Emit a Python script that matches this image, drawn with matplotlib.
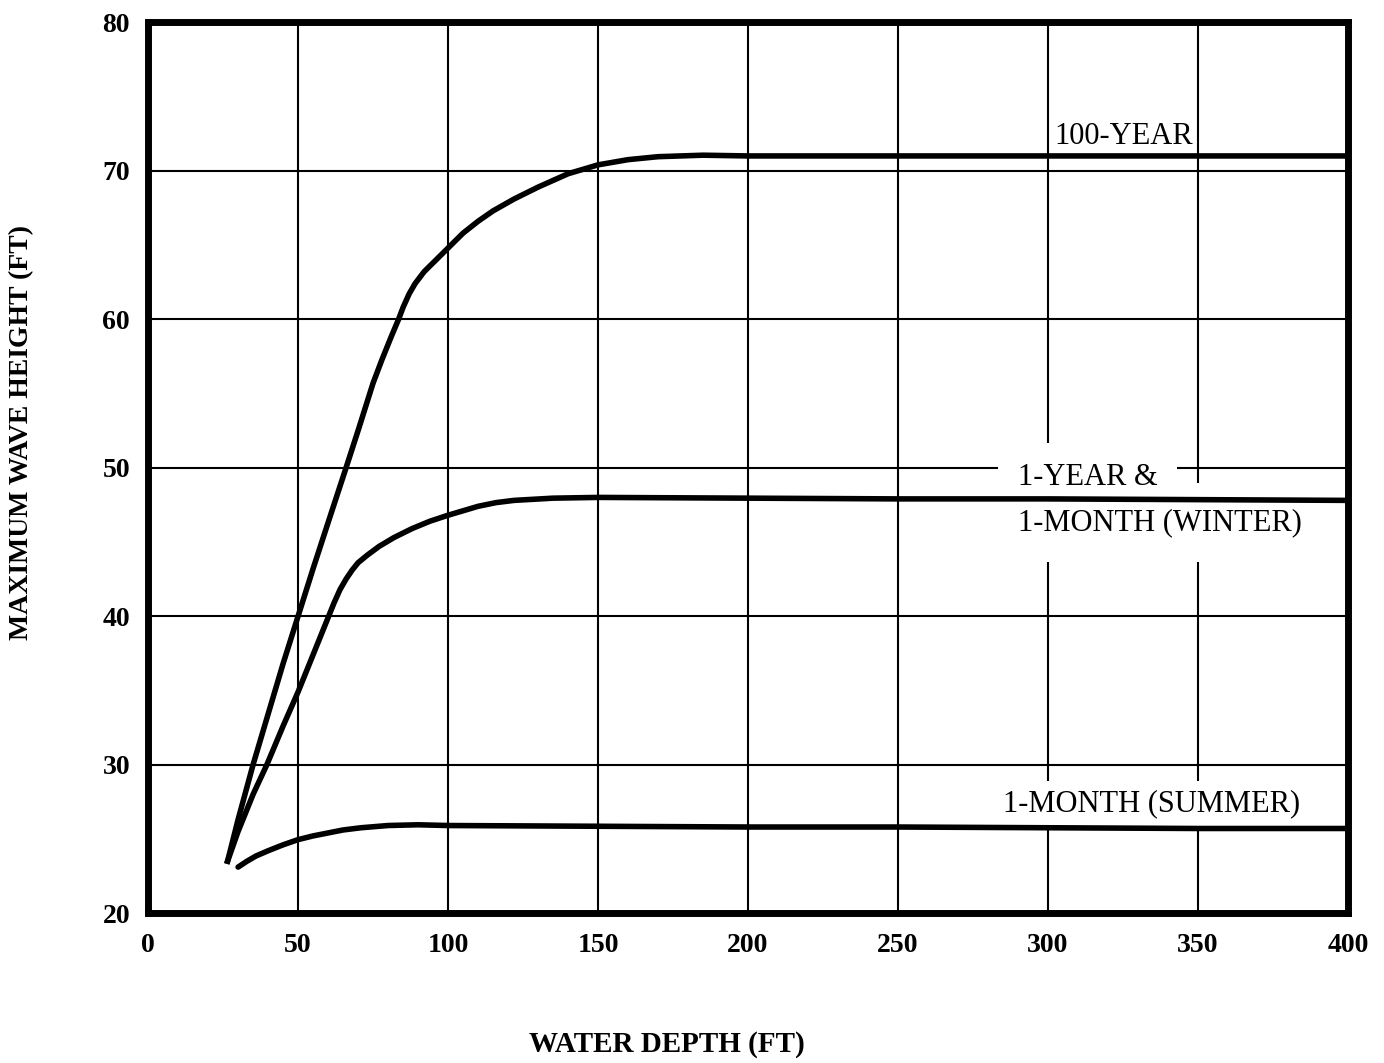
import matplotlib; matplotlib.use('agg'); import matplotlib.pyplot as plt

# values
depth_100yr = [26.5, 30, 35, 40, 45, 50, 55, 60, 66, 70, 75, 78, 81, 83.5, 85, 87, 89, 92, 96, 100, 105, 110, 115, 122, 130, 140, 150, 160, 170, 185, 200, 250, 300, 350, 400]
height_100yr = [23.5, 26.3, 30, 33.4, 36.8, 40, 43.2, 46.3, 50, 52.5, 55.7, 57.3, 58.8, 60, 60.8, 61.7, 62.4, 63.2, 64.0, 64.8, 65.8, 66.6, 67.3, 68.1, 68.9, 69.8, 70.4, 70.75, 70.95, 71.05, 71, 71, 71, 71, 71]

depth_winter = [26.5, 30, 35, 39.6, 45, 50, 55, 60, 62, 64, 66, 68, 70, 73, 77, 82, 88, 94, 100, 105, 110, 116, 122, 135, 150, 200, 250, 300, 350, 400]
height_winter = [23.5, 25.5, 28, 30, 32.6, 34.9, 37.4, 39.9, 40.9, 41.8, 42.5, 43.1, 43.6, 44.1, 44.7, 45.3, 45.9, 46.4, 46.8, 47.1, 47.4, 47.65, 47.8, 47.95, 48, 47.95, 47.9, 47.9, 47.85, 47.8]

depth_summer = [30, 33, 36, 40, 45, 50, 55, 60, 65, 71, 80, 90, 100, 150, 200, 250, 300, 350, 400]
height_summer = [23.1, 23.5, 23.85, 24.2, 24.6, 24.95, 25.2, 25.4, 25.6, 25.75, 25.9, 25.95, 25.9, 25.85, 25.8, 25.8, 25.75, 25.7, 25.7]

x_ticks = [0, 50, 100, 150, 200, 250, 300, 350, 400]
y_ticks = [20, 30, 40, 50, 60, 70, 80]

FONT = "Liberation Serif"

if __name__ == "__main__":
    fig = plt.figure(figsize=(13.84, 10.63), dpi=100)
    ax = fig.add_axes([0.107, 0.141, 0.867, 0.838])

    ax.set_xlim(0, 400)
    ax.set_ylim(20, 80)
    ax.set_xticks(x_ticks)
    ax.set_yticks(y_ticks)
    ax.grid(True, color="black", linewidth=1.5)
    ax.set_axisbelow(True)
    ax.tick_params(length=0)
    ax.tick_params(axis="x", pad=14)
    ax.tick_params(axis="y", pad=13)
    for lab in ax.get_xticklabels() + ax.get_yticklabels():
        lab.set_fontfamily(FONT)
        lab.set_fontweight("bold")
        lab.set_fontsize(20)
    for sp in ax.spines.values():
        sp.set_linewidth(5)

    ax.plot(depth_100yr, height_100yr, "-", color="black", linewidth=4.0, zorder=5, solid_joinstyle="round")
    ax.plot(depth_winter, height_winter, "-", color="black", linewidth=4.0, zorder=5, solid_joinstyle="round")
    ax.plot(depth_summer, height_summer, "-", color="black", linewidth=4.0, zorder=5,
            solid_capstyle="round", solid_joinstyle="round")

    # curve labels: white boxes first (they cut the grid), then the text on top
    labels = [
        (302, 71.3, "100-YEAR", "bottom", 0),
        (290, 49.35, "1-YEAR &", "center", 14),
        (290, 46.3, "1-MONTH (WINTER)", "center", 18),
        (285, 27.4, "1-MONTH (SUMMER)", "center", 6),
    ]
    for x, y, s, va, pad in labels:
        if pad:
            ax.text(x, y, s, ha="left", va=va, family=FONT, fontsize=22, color="none", zorder=3.5,
                    bbox=dict(facecolor="white", edgecolor="none", pad=pad))
        ax.text(x, y, s, ha="left", va=va, family=FONT, fontsize=22, color="black", zorder=4)

    fig.text(22 / 1384, 1 - 432 / 1063, "MAXIMUM WAVE HEIGHT (FT)", rotation=90,
             ha="center", va="center", family=FONT, fontsize=20, fontweight="bold")
    fig.text(667 / 1384, 1 - 1045 / 1063, "WATER DEPTH (FT)",
             ha="center", va="center", family=FONT, fontsize=21, fontweight="bold")

    fig.savefig("out.png", dpi=100)
    plt.close()
